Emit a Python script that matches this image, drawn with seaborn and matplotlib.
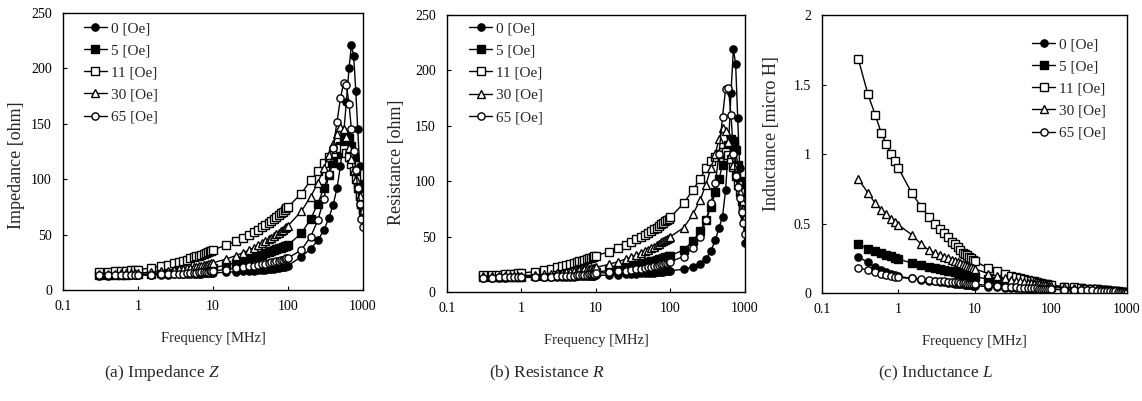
import matplotlib
matplotlib.use("Agg")
import matplotlib.pyplot as plt
import seaborn as sns
import pandas as pd

# ---------------- data ----------------
FREQ = [0.3, 0.4, 0.5, 0.6, 0.7, 0.8, 0.9, 1.0,
        1.5, 2.0, 2.5, 3.0, 3.5, 4.0, 4.5, 5.0, 5.5, 6.0, 6.5, 7.0, 7.5, 8.0, 8.5, 9.0, 9.5, 10,
        15, 20, 25, 30, 35, 40, 45, 50, 55, 60, 65, 70, 75, 80, 85, 90, 95, 100,
        150, 200, 250, 300, 350, 400, 450, 500, 550, 600, 650, 700, 750, 800, 850, 900, 950, 1000]

FIELDS = ["0 [Oe]", "5 [Oe]", "11 [Oe]", "30 [Oe]", "65 [Oe]"]

# Impedance Z [ohm]
Z_0 = [13.0, 13.0, 13.1, 13.1, 13.2, 13.2, 13.3, 13.3,
       13.5, 13.7, 13.8, 14.0, 14.1, 14.2, 14.3, 14.4, 14.5, 14.6, 14.7, 14.8, 14.9, 15.0, 15.1, 15.2, 15.3, 15.4,
       16.0, 16.5, 17.0, 17.3, 17.6, 17.9, 18.2, 18.5, 18.8, 19.1, 19.4, 19.7, 20.0, 20.4, 20.8, 21.2, 21.6, 22.0,
       30, 37, 45, 54, 65, 77, 92, 112, 140, 170, 200, 221, 211, 180, 145, 112, 85, 68]
Z_5 = [13.5, 13.6, 13.7, 13.8, 13.9, 14.0, 14.1, 14.2,
       14.6, 15.0, 15.4, 15.8, 16.1, 16.4, 16.7, 17.0, 17.3, 17.6, 17.9, 18.2, 18.5, 18.8, 19.1, 19.4, 19.7, 20.0,
       22.5, 24.5, 26.3, 28.0, 29.5, 30.8, 32.0, 33.1, 34.1, 35.0, 35.9, 36.7, 37.5, 38.2, 38.9, 39.5, 40.1, 40.7,
       51, 64, 78, 92, 104, 115, 123, 130, 135, 138, 137, 130, 120, 108, 96, 86, 78, 72]
Z_11 = [16.0, 16.4, 16.8, 17.1, 17.4, 17.7, 18.0, 18.3,
        20.0, 21.5, 22.9, 24.2, 25.4, 26.5, 27.5, 28.5, 29.4, 30.3, 31.1, 31.9, 32.7, 33.4, 34.1, 34.8, 35.5, 36.2,
        40.5, 44.0, 47.0, 49.8, 52.3, 54.6, 56.8, 58.8, 60.7, 62.5, 64.2, 65.9, 67.5, 69.1, 70.6, 72.1, 73.6, 75.0,
        87, 99, 107, 115, 120, 124, 127, 128, 127, 124, 120, 114, 107, 100, 92, 85, 78, 72]
Z_30 = [14.5, 14.6, 14.8, 14.9, 15.0, 15.1, 15.2, 15.3,
        16.0, 16.7, 17.4, 18.0, 18.6, 19.2, 19.7, 20.2, 20.7, 21.2, 21.7, 22.1, 22.5, 22.9, 23.3, 23.7, 24.1, 24.5,
        28.0, 31.0, 33.6, 36.0, 38.2, 40.2, 42.1, 43.9, 45.6, 47.2, 48.7, 50.2, 51.6, 53.0, 54.3, 55.6, 56.8, 58.0,
        71, 84, 97, 110, 122, 132, 141, 147, 145, 138, 128, 118, 108, 100, 92, 85, 78, 72]
Z_65 = [13.2, 13.2, 13.3, 13.3, 13.4, 13.4, 13.5, 13.5,
        13.8, 14.0, 14.2, 14.4, 14.6, 14.8, 15.0, 15.2, 15.4, 15.6, 15.8, 16.0, 16.2, 16.4, 16.6, 16.8, 17.0, 17.2,
        18.5, 19.5, 20.5, 21.3, 22.0, 22.7, 23.3, 23.9, 24.5, 25.0, 25.5, 26.0, 26.5, 27.0, 27.5, 28.0, 28.5, 29.0,
        36, 48, 63, 82, 105, 128, 152, 173, 187, 185, 168, 145, 125, 108, 92, 78, 64, 57]

# Resistance R [ohm]
R_0 = [13.0, 13.0, 13.0, 13.0, 13.1, 13.1, 13.1, 13.1,
       13.2, 13.3, 13.4, 13.5, 13.6, 13.7, 13.8, 13.9, 14.0, 14.1, 14.2, 14.3, 14.4, 14.5, 14.6, 14.7, 14.8, 14.9,
       15.3, 15.6, 15.9, 16.2, 16.5, 16.8, 17.0, 17.2, 17.4, 17.6, 17.8, 18.0, 18.2, 18.4, 18.6, 18.8, 19.0, 19.2,
       20.5, 22.5, 25.5, 30, 37, 47, 58, 68, 92, 130, 180, 219, 206, 157, 112, 95, 70, 44]
R_5 = [13.5, 13.5, 13.6, 13.6, 13.7, 13.7, 13.8, 13.8,
       14.1, 14.4, 14.7, 15.0, 15.3, 15.5, 15.7, 15.9, 16.1, 16.3, 16.5, 16.7, 16.9, 17.1, 17.3, 17.5, 17.7, 17.9,
       19.5, 21.0, 22.3, 23.5, 24.5, 25.4, 26.2, 27.0, 27.7, 28.4, 29.0, 29.6, 30.2, 30.8, 31.3, 31.8, 32.3, 32.8,
       38, 46, 55, 65, 77, 90, 102, 115, 125, 133, 138, 136, 128, 115, 100, 87, 75, 65]
R_11 = [15.0, 15.3, 15.6, 15.9, 16.2, 16.5, 16.8, 17.0,
        18.5, 19.8, 21.0, 22.2, 23.2, 24.2, 25.1, 26.0, 26.8, 27.6, 28.3, 29.0, 29.7, 30.3, 30.9, 31.5, 32.1, 32.7,
        36.5, 39.8, 42.6, 45.2, 47.5, 49.6, 51.6, 53.4, 55.1, 56.7, 58.2, 59.6, 61.0, 62.4, 63.7, 65.0, 66.2, 67.4,
        80, 92, 102, 112, 118, 122, 125, 126, 126, 124, 120, 113, 105, 97, 90, 82, 75, 68]
R_30 = [14.0, 14.1, 14.2, 14.3, 14.4, 14.5, 14.6, 14.7,
        15.3, 15.9, 16.5, 17.0, 17.5, 18.0, 18.4, 18.8, 19.2, 19.6, 20.0, 20.4, 20.7, 21.0, 21.3, 21.6, 21.9, 22.2,
        25.0, 27.5, 29.7, 31.7, 33.5, 35.2, 36.8, 38.3, 39.7, 41.0, 42.3, 43.5, 44.7, 45.8, 46.9, 48.0, 49.0, 50.0,
        58, 70, 83, 97, 112, 125, 138, 148, 145, 135, 125, 115, 105, 97, 90, 82, 75, 68]
R_65 = [13.0, 13.0, 13.1, 13.1, 13.1, 13.2, 13.2, 13.2,
        13.4, 13.6, 13.8, 14.0, 14.2, 14.4, 14.6, 14.8, 15.0, 15.2, 15.4, 15.6, 15.8, 16.0, 16.2, 16.4, 16.6, 16.8,
        17.8, 18.6, 19.3, 20.0, 20.6, 21.2, 21.8, 22.4, 22.9, 23.4, 23.9, 24.4, 24.9, 25.4, 25.9, 26.4, 26.9, 27.4,
        32, 40, 50, 65, 80, 98, 125, 158, 183, 184, 160, 125, 105, 95, 85, 72, 62, 52]

# Inductance L [micro H]
L_0 = [0.26, 0.22, 0.185, 0.165, 0.15, 0.14, 0.13, 0.12,
       0.105, 0.095, 0.09, 0.085, 0.08, 0.077, 0.074, 0.071, 0.068, 0.066, 0.064, 0.062, 0.06, 0.058, 0.056, 0.055, 0.054, 0.053,
       0.045, 0.04, 0.038, 0.036, 0.035, 0.034, 0.033, 0.032, 0.031, 0.03, 0.03, 0.029, 0.029, 0.028, 0.028, 0.027, 0.027, 0.026,
       0.024, 0.022, 0.02, 0.019, 0.018, 0.017, 0.016, 0.015, 0.014, 0.013, 0.012, 0.011, 0.01, 0.008, 0.006, 0.004, 0.002, 0.0]
L_5 = [0.35, 0.32, 0.30, 0.285, 0.275, 0.265, 0.255, 0.245,
       0.215, 0.20, 0.19, 0.18, 0.172, 0.165, 0.16, 0.155, 0.15, 0.145, 0.14, 0.136, 0.132, 0.128, 0.125, 0.122, 0.12, 0.118,
       0.10, 0.09, 0.082, 0.076, 0.072, 0.068, 0.065, 0.062, 0.06, 0.058, 0.056, 0.054, 0.052, 0.05, 0.049, 0.048, 0.047, 0.046,
       0.04, 0.036, 0.033, 0.03, 0.028, 0.026, 0.024, 0.022, 0.02, 0.018, 0.016, 0.014, 0.012, 0.01, 0.008, 0.006, 0.004, 0.002]
L_11 = [1.68, 1.43, 1.28, 1.15, 1.07, 1.00, 0.95, 0.90,
        0.72, 0.62, 0.55, 0.50, 0.46, 0.43, 0.40, 0.37, 0.35, 0.33, 0.31, 0.29, 0.28, 0.27, 0.26, 0.25, 0.24, 0.23,
        0.18, 0.16, 0.14, 0.125, 0.115, 0.105, 0.10, 0.095, 0.09, 0.085, 0.08, 0.075, 0.07, 0.068, 0.065, 0.062, 0.06, 0.058,
        0.045, 0.04, 0.035, 0.032, 0.03, 0.028, 0.025, 0.022, 0.02, 0.018, 0.015, 0.012, 0.01, 0.008, 0.006, 0.004, 0.002, 0.0]
L_30 = [0.82, 0.72, 0.645, 0.60, 0.565, 0.535, 0.51, 0.49,
        0.42, 0.35, 0.31, 0.29, 0.275, 0.26, 0.25, 0.24, 0.23, 0.22, 0.215, 0.21, 0.20, 0.195, 0.19, 0.185, 0.18, 0.175,
        0.14, 0.12, 0.105, 0.095, 0.09, 0.085, 0.08, 0.075, 0.07, 0.068, 0.065, 0.062, 0.06, 0.058, 0.056, 0.054, 0.052, 0.05,
        0.04, 0.036, 0.033, 0.03, 0.028, 0.026, 0.024, 0.022, 0.02, 0.018, 0.016, 0.014, 0.012, 0.01, 0.008, 0.006, 0.004, 0.002]
L_65 = [0.18, 0.165, 0.15, 0.14, 0.13, 0.123, 0.117, 0.112,
        0.105, 0.098, 0.093, 0.09, 0.087, 0.084, 0.082, 0.08, 0.078, 0.076, 0.074, 0.072, 0.07, 0.068, 0.067, 0.066, 0.065, 0.064,
        0.055, 0.05, 0.046, 0.043, 0.041, 0.039, 0.037, 0.036, 0.035, 0.034, 0.033, 0.032, 0.031, 0.03, 0.03, 0.029, 0.029, 0.028,
        0.025, 0.023, 0.021, 0.02, 0.019, 0.018, 0.017, 0.016, 0.015, 0.014, 0.013, 0.012, 0.01, 0.008, 0.006, 0.004, 0.002, 0.0]

X_TICKS = [0.1, 1, 10, 100, 1000]
X_TICK_LABELS = ["0.1", "1", "10", "100", "1000"]
Y_TICKS_ZR = [0, 50, 100, 150, 200, 250]
Y_TICKS_L = [0, 0.5, 1, 1.5, 2]
Y_TICK_LABELS_L = ["0", "0.5", "1", "1.5", "2"]

# ---------------- style ----------------
sns.set_theme(style="white")
plt.rcParams["font.family"] = ["Liberation Serif", "DejaVu Serif"]
plt.rcParams["mathtext.fontset"] = "custom"
plt.rcParams["mathtext.rm"] = "Liberation Serif"
plt.rcParams["mathtext.it"] = "Liberation Serif:italic"

MARKERS = ["o", "s", "s", "^", "o"]
FACES = ["black", "black", "white", "white", "white"]

fig = plt.figure(figsize=(11.42, 4.01), dpi=100)
ax_a = fig.add_axes([0.0552, 0.2768, 0.2627, 0.6908])
ax_b = fig.add_axes([0.3914, 0.2718, 0.2609, 0.6908])
ax_c = fig.add_axes([0.7198, 0.2693, 0.2671, 0.6933])

panels = [
    (ax_a, [Z_0, Z_5, Z_11, Z_30, Z_65], "Impedance [ohm]", (0, 250), Y_TICKS_ZR, None,
     (0.07, 0.968), (-0.128, 0.45)),
    (ax_b, [R_0, R_5, R_11, R_30, R_65], "Resistance [ohm]", (0, 250), Y_TICKS_ZR, None,
     (0.075, 0.975), (-0.142, 0.47)),
    (ax_c, [L_0, L_5, L_11, L_30, L_65], "Inductance [micro H]", (0, 2), Y_TICKS_L, Y_TICK_LABELS_L,
     (0.69, 0.918), (-0.139, 0.575)),
]

for ax, series, ylab, ylim, yticks, yticklabels, leg_anchor, ylab_pos in panels:
    for vals, lab, mk, fc in zip(series, FIELDS, MARKERS, FACES):
        df = pd.DataFrame({"f": FREQ, "v": vals})
        sns.lineplot(data=df, x="f", y="v", ax=ax, color="black", linewidth=1.0,
                     marker=mk, markersize=5.2 if mk != "^" else 5.6,
                     markerfacecolor=fc, markeredgecolor="black", markeredgewidth=1.0,
                     label=lab, estimator=None, sort=False)
    ax.set_xscale("log")
    ax.set_xlim(0.1, 1000)
    ax.set_ylim(*ylim)
    ax.set_xticks(X_TICKS)
    ax.set_xticklabels(X_TICK_LABELS)
    ax.minorticks_off()
    ax.set_yticks(yticks)
    if yticklabels is not None:
        ax.set_yticklabels(yticklabels)
    ax.tick_params(axis="both", direction="in", length=3, width=0.8, labelsize=10,
                   colors="black", bottom=True, left=True)
    ax.tick_params(axis="x", pad=7)
    ax.tick_params(axis="y", pad=8)
    for sp in ax.spines.values():
        sp.set_visible(True)
        sp.set_color("black")
        sp.set_linewidth(1.0)
    ax.set_xlabel("Frequency [MHz]", fontsize=10.5)
    ax.xaxis.set_label_coords(0.5, -0.15)
    ax.set_ylabel(ylab, fontsize=13)
    ax.yaxis.set_label_coords(*ylab_pos)
    ax.legend(loc="upper left", bbox_to_anchor=leg_anchor, frameon=False, fontsize=11,
              handlelength=1.5, handletextpad=0.25, labelspacing=0.55,
              borderpad=0, borderaxespad=0)

fig.text(0.142, 0.07, "(a) Impedance $Z$", ha="center", va="center", fontsize=12.5)
fig.text(0.479, 0.07, "(b) Resistance $R$", ha="center", va="center", fontsize=12.5)
fig.text(0.819, 0.07, "(c) Inductance $L$", ha="center", va="center", fontsize=12.5)

fig.savefig("out.png", dpi=100, facecolor="white")
